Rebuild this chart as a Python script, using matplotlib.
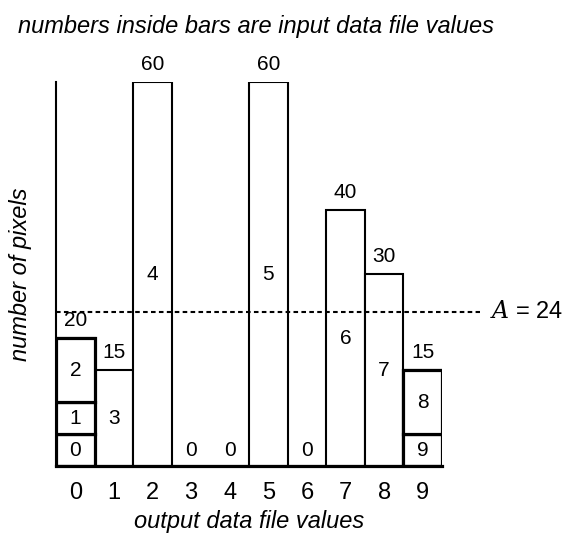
import matplotlib
matplotlib.use("Agg")
import matplotlib.pyplot as plt

# Data
output_values = [0, 1, 2, 3, 4, 5, 6, 7, 8, 9]
output_counts = [20, 15, 60, 0, 0, 60, 0, 40, 30, 15]
# input data file values, in stacking order, with their counts and output bins
input_values = [0, 1, 2, 3, 4, 5, 6, 7, 9, 8]
input_counts = [5, 5, 10, 15, 60, 60, 40, 30, 5, 10]
input_to_output = [0, 0, 0, 1, 2, 5, 7, 8, 9, 9]
A_value = 24

title = "numbers inside bars are input data file values"
xlabel = "output data file values"
ylabel = "number of pixels"

plt.rcParams['font.family'] = ['Liberation Sans', 'DejaVu Sans']

fig = plt.figure(figsize=(5.69, 5.39), dpi=100)
ax = fig.add_axes([56/569, 1 - 466/539, 386/569, 384/539])
ax.set_xlim(-0.5, 9.5)
ax.set_ylim(0, 60)

# Output bars (thin outline)
ax.bar(output_values, output_counts, width=1.0, facecolor='white',
       edgecolor='black', linewidth=1.5, zorder=2)

# Stacked input segments for bins that merge several inputs
bottoms = {v: 0 for v in output_values}
multi = {o: input_to_output.count(o) > 1 for o in output_values}
for iv, ic, ov in zip(input_values, input_counts, input_to_output):
    b = bottoms[ov]
    if multi[ov]:
        ax.bar(ov, ic, bottom=b, width=1.0, facecolor='white',
               edgecolor='black', linewidth=2.3, zorder=3)
    ax.text(ov, b + ic / 2, str(iv), ha='center', va='center',
            fontsize=15, zorder=5)
    bottoms[ov] = b + ic

# zero bins labels / counts above bars
for ov, oc in zip(output_values, output_counts):
    if oc == 0:
        ax.text(ov, 2.5, "0", ha='center', va='center', fontsize=15, zorder=5)
    else:
        ax.text(ov, oc + 1.2, str(oc), ha='center', va='bottom',
                fontsize=15, zorder=5)

# Dashed A line
ax.plot([-0.5, 10.48], [A_value, A_value], linestyle=(0, (2.2, 1.6)),
        color='black', linewidth=1.5, clip_on=False, zorder=4)
ax.text(10.75, A_value, r"$A$ = 24", ha='left', va='center', fontsize=17,
        math_fontfamily='dejavuserif')

# Axes
for s in ['top', 'right']:
    ax.spines[s].set_visible(False)
ax.spines['left'].set_linewidth(1.5)
ax.spines['bottom'].set_linewidth(2.3)
ax.spines['left'].set_zorder(6)
ax.spines['bottom'].set_zorder(6)
ax.set_yticks([])
ax.set_xticks(output_values)
ax.tick_params(axis='x', length=0, labelsize=17, pad=11.5)
ax.set_xlabel(xlabel, fontsize=17, style='italic', labelpad=4.5)
ax.set_ylabel(ylabel, fontsize=17, style='italic', labelpad=17)

fig.text(18/569, 1 - 26/539, title, fontsize=17, style='italic',
         ha='left', va='center')

fig.savefig("out.png", dpi=100)
